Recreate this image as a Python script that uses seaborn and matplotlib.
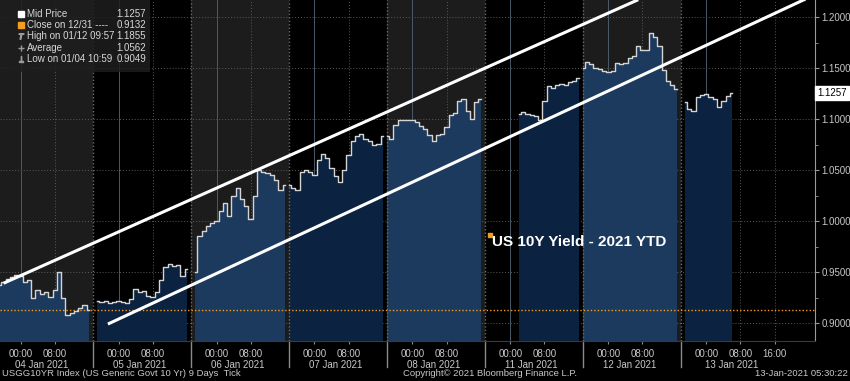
import numpy as np
import pandas as pd
import seaborn as sns
import matplotlib.pyplot as plt
from matplotlib.patches import Rectangle
from matplotlib.ticker import MultipleLocator

# hourly mid price per trading session (session runs 18:00 prev. day -> 17:00)
# first value sits at hour `*_start` of the session
jan04_start = 1
jan04 = [0.937, 0.940, 0.943, 0.945, 0.947, 0.946, 0.940, 0.942, 0.925, 0.932, 0.928,
         0.930, 0.926, 0.932, 0.950, 0.925, 0.908, 0.910, 0.912, 0.915, 0.918, 0.913]
jan05_start = 1
jan05 = [0.922, 0.921, 0.922, 0.920, 0.921, 0.922, 0.921, 0.920, 0.924, 0.933, 0.930,
         0.931, 0.927, 0.926, 0.930, 0.942, 0.955, 0.958, 0.956, 0.957, 0.946, 0.953]
jan06_start = 1
jan06 = [0.950, 0.985, 0.990, 0.995, 0.998, 1.000, 1.010, 1.018, 1.005, 1.025, 1.032,
         1.022, 1.015, 1.002, 1.025, 1.050, 1.048, 1.047, 1.045, 1.040, 1.030, 1.035]
jan07_start = 0
jan07 = [1.035, 1.032, 1.030, 1.048, 1.050, 1.048, 1.045, 1.060, 1.066, 1.062, 1.052, 1.044,
         1.038, 1.050, 1.065, 1.078, 1.083, 1.085, 1.080, 1.078, 1.075, 1.076, 1.083]
jan08_start = 0
jan08 = [1.083, 1.080, 1.094, 1.099, 1.099, 1.099, 1.099, 1.097, 1.093, 1.090, 1.084, 1.078,
         1.084, 1.085, 1.092, 1.104, 1.106, 1.118, 1.120, 1.108, 1.100, 1.117, 1.120]
jan11_start = 8
jan11 = [1.105, 1.107, 1.105, 1.104, 1.103, 1.099, 1.118, 1.132, 1.130, 1.133, 1.134,
         1.133, 1.136, 1.137, 1.140]
jan12_start = 0
jan12 = [1.150, 1.156, 1.154, 1.150, 1.149, 1.147, 1.146, 1.147, 1.155, 1.154, 1.155, 1.160,
         1.162, 1.172, 1.168, 1.168, 1.184, 1.180, 1.172, 1.148, 1.137, 1.133, 1.129]
jan13_start = 1
jan13 = [1.117, 1.110, 1.108, 1.122, 1.124, 1.125, 1.122, 1.120, 1.112, 1.118, 1.123, 1.1257]

session_labels = ['04 Jan 2021', '05 Jan 2021', '06 Jan 2021', '07 Jan 2021',
                  '08 Jan 2021', '11 Jan 2021', '12 Jan 2021', '13 Jan 2021']

last_price = 1.1257
close_1231 = 0.9132
legend_names = ['Mid Price', 'Close on 12/31 ----', 'High on 01/12 09:57', 'Average', 'Low on 01/04 10:59']
legend_values = ['1.1257', '0.9132', '1.1855', '1.0562', '0.9049']

# trend channel (session hour, price)
upper_x = [2.0, 151.0]
upper_y = [0.939, 1.217]
lower_x = [26.5, 192.5]
lower_y = [0.899, 1.222]

session_len = 23
ymin, ymax = 0.8824, 1.2167

sessions = [(jan04_start, jan04), (jan05_start, jan05), (jan06_start, jan06), (jan07_start, jan07),
            (jan08_start, jan08), (jan11_start, jan11), (jan12_start, jan12), (jan13_start, jan13)]

frames = []
for k, (start, vals) in enumerate(sessions):
    frames.append(pd.DataFrame({'session': k,
                                'hour': session_len * k + start + np.arange(len(vals)),
                                'price': vals}))
data = pd.concat(frames, ignore_index=True)

plt.rcParams['font.family'] = ['Liberation Sans', 'DejaVu Sans']

fig = plt.figure(figsize=(8.5, 3.81), dpi=100, facecolor='black')
ax = fig.add_axes([0, 0.105, 0.9588, 0.895])
ax.set_facecolor('black')

xmax = 192.5
ax.set_xlim(1.17, xmax)
ax.set_ylim(ymin, ymax)

# alternating session backgrounds
for k in range(len(sessions)):
    x0 = session_len * k
    x1 = xmax if k == len(sessions) - 1 else x0 + session_len
    ax.axvspan(x0, x1, color='#1c1c1c' if k % 2 == 0 else '#000000', zorder=0, lw=0)

# grid
for v in np.arange(0.90, 1.2001, 0.05):
    ax.axhline(v, color='#5a5a5a', ls=(0, (1, 2)), lw=0.7, zorder=1)
for k in range(len(sessions)):
    ax.axvline(session_len * k + 6, color='#4a5a6a', lw=0.7, zorder=1)
    ax.axvline(session_len * k + 14, color='#5a5a5a', ls=(0, (1, 2)), lw=0.7, zorder=1)
ax.axvline(session_len * 7 + 22, color='#5a5a5a', ls=(0, (1, 2)), lw=0.7, zorder=1)

# area fill + price line per session
for k in range(len(sessions)):
    d = data[data['session'] == k]
    ax.fill_between(d['hour'], d['price'], ymin, step='mid',
                    color='#1c3a5e' if k % 2 == 0 else '#0b2240', lw=0, zorder=2)
    sns.lineplot(x='hour', y='price', data=d, ax=ax, color='#d4d4d4', lw=1,
                 drawstyle='steps-mid', estimator=None, zorder=4)

# session separators
for k in range(1, len(sessions)):
    ax.axvline(session_len * k, color='#6a6a6a', ls=(0, (1, 1.5)), lw=1, zorder=3)
    ax.axvline(session_len * k, ymin=-0.075, ymax=0, color='#8a8a8a', lw=1, clip_on=False)

# close on 12/31
ax.axhline(close_1231, color='#f39c1e', ls=(0, (1, 1.5)), lw=1, zorder=3)

# channel
ax.plot(upper_x, upper_y, color='white', lw=2.2, zorder=5, solid_capstyle='butt')
ax.plot(lower_x, lower_y, color='white', lw=2.2, zorder=5, solid_capstyle='butt')

# annotation
ax.plot([116.3], [0.986], marker='s', ms=3.2, color='#f39c1e', zorder=6)
ax.text(116.7, 0.9795, 'US 10Y Yield - 2021 YTD', color='white', fontsize=11,
        fontweight='bold', va='center', ha='left', zorder=6)

# axes styling
for s in ['top', 'left']:
    ax.spines[s].set_visible(False)
ax.spines['right'].set_color('#9a9a9a')
ax.spines['bottom'].set_color('#3a3a3a')
ax.yaxis.tick_right()
ax.set_yticks(np.arange(0.90, 1.2001, 0.05))
ax.set_yticklabels([f'{v:.4f}' for v in np.arange(0.90, 1.2001, 0.05)])
ax.yaxis.set_minor_locator(MultipleLocator(0.025))
ax.tick_params(axis='y', which='major', colors='#9a9a9a', labelcolor='#c8c8c8',
               labelsize=7, length=3, pad=1.5)
ax.tick_params(axis='y', which='minor', colors='#9a9a9a', length=2)

major_x = [session_len * k + h for k in range(len(sessions)) for h in (6, 14)] + [session_len * 7 + 22]
major_lbl = ['00:00', '08:00'] * len(sessions) + ['16:00']
ax.set_xticks(major_x, major_lbl)
date_x = [session_len * k + 11 for k in range(7)] + [session_len * 7 + 12]
ax.set_xticks(date_x, session_labels, minor=True)
ax.tick_params(axis='x', which='major', colors='#8a8a8a', labelcolor='#c8c8c8',
               labelsize=7, length=2, pad=3.5)
ax.tick_params(axis='x', which='minor', labelcolor='#c8c8c8', labelsize=7, length=0, pad=14)
ax.set_xlabel('')
ax.set_ylabel('')

# last price tag
ax.text(1.003, (last_price - ymin) / (ymax - ymin), '1.1257', transform=ax.transAxes,
        color='black', fontsize=7, va='center', ha='left',
        bbox=dict(boxstyle='square,pad=0.2', fc='white', ec='white'))

# legend box
fig.patches.append(Rectangle((0, 1 - 72 / 381), 150 / 850, 72 / 381, transform=fig.transFigure,
                             fc='#1e1e1e', ec='none', alpha=0.85, zorder=10))
icons = ['s', 's', '$T$', '+', '$\\perp$']
icon_colors = ['white', '#f39c1e', '#9a9a9a', '#9a9a9a', '#9a9a9a']
for i, (name, val) in enumerate(zip(legend_names, legend_values)):
    yy = 1 - (14 + i * 11.2) / 381
    fig.lines.append(plt.Line2D([21 / 850], [yy], marker=icons[i], ms=5 if i < 2 else 4,
                                color=icon_colors[i], transform=fig.transFigure, zorder=11))
    fig.text(27 / 850, yy, name, color='#d8d8d8', fontsize=7, va='center', ha='left', zorder=11)
    fig.text(146 / 850, yy, val, color='#d8d8d8', fontsize=7, va='center', ha='right', zorder=11)

# footer
fig.text(2 / 850, 7 / 381, 'USGG10YR Index (US Generic Govt 10 Yr) 9 Days  Tick',
         color='#c8c8c8', fontsize=6.8, va='center')
fig.text(403 / 850, 7 / 381, 'Copyright\u00a9 2021 Bloomberg Finance L.P.',
         color='#c8c8c8', fontsize=6.8, va='center')
fig.text(848 / 850, 7 / 381, '13-Jan-2021 05:30:22', color='#c8c8c8', fontsize=6.8,
         va='center', ha='right')

fig.savefig('out.png', dpi=100, facecolor='black')
